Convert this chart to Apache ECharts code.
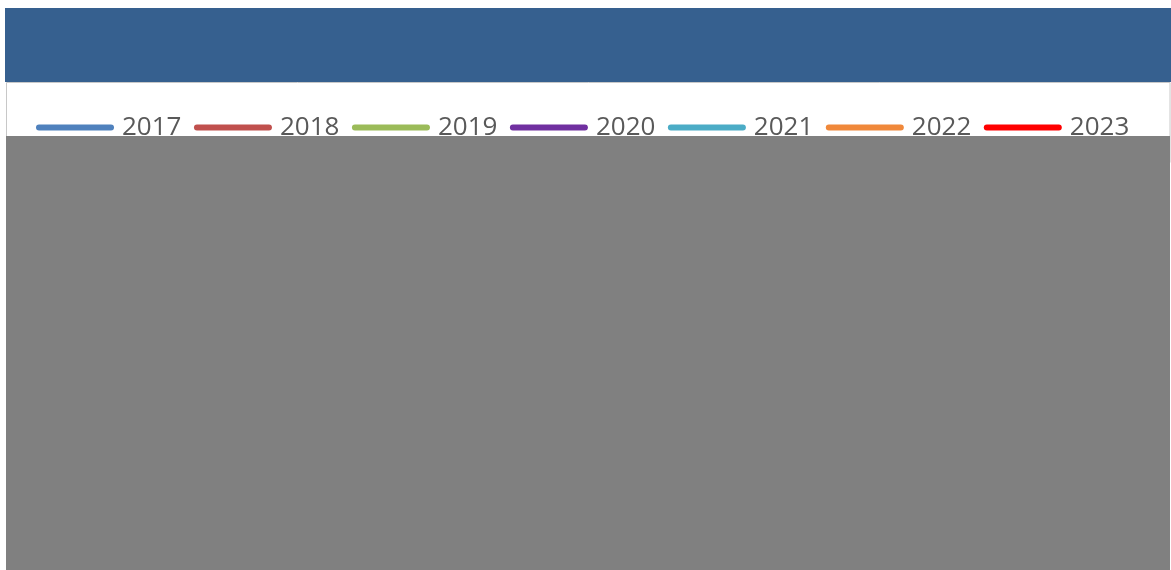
<!DOCTYPE html>
<html>
<head>
<meta charset="utf-8">
<script src="https://cdn.jsdelivr.net/npm/echarts@6/dist/echarts.min.js"></script>
<style>
html,body{margin:0;padding:0;background:#ffffff;}
#chart{width:1171px;height:570px;}
</style>
</head>
<body>
<div id="chart"></div>
<script>
// Series names (legend) – the plot body is covered by an opaque grey block in the reference,
// so no data values are visible.
const seriesNames = ['2017', '2018', '2019', '2020', '2021', '2022', '2023'];
const seriesColors = ['#4f81bd', '#c0504d', '#9bbb59', '#7030a0', '#4bacc6', '#f0883a', '#ff0000'];
const categories = [];
const values2017 = [];
const values2018 = [];
const values2019 = [];
const values2020 = [];
const values2021 = [];
const values2022 = [];
const values2023 = [];
const allValues = [values2017, values2018, values2019, values2020, values2021, values2022, values2023];

const chart = echarts.init(document.getElementById('chart'), null, {renderer: 'canvas'});
const capsule = 'path://M3,0 H75 A3,3 0 0 1 75,6 H3 A3,3 0 0 1 3,0 Z';

const option = {
  backgroundColor: '#ffffff',
  animation: false,
  graphic: [
    {type: 'rect', z: 1, shape: {x: 5, y: 8, width: 1166, height: 74}, style: {fill: '#36608f'}},
    {type: 'rect', z: 1, shape: {x: 6.5, y: 82.5, width: 1163.5, height: 80}, style: {fill: '#ffffff', stroke: '#c8c8c8', lineWidth: 1}},
    {type: 'rect', z: 100, shape: {x: 6, y: 136, width: 1164, height: 434}, style: {fill: '#808080'}}
  ],
  legend: {
    left: 36,
    top: 114.5,
    padding: 0,
    itemWidth: 78,
    itemHeight: 6,
    itemGap: 12.5,
    icon: capsule,
    textStyle: {fontFamily: 'Open Sans', fontSize: 26, color: '#595959', padding: [0, 0, 0, 3]},
    data: seriesNames
  },
  grid: {left: 60, right: 40, top: 160, bottom: 40},
  xAxis: {type: 'category', data: categories, show: false},
  yAxis: {type: 'value', show: false},
  series: seriesNames.map((n, i) => ({
    name: n,
    type: 'line',
    data: allValues[i],
    symbol: 'none',
    lineStyle: {color: seriesColors[i], width: 3},
    itemStyle: {color: seriesColors[i]}
  }))
};
chart.setOption(option);
</script>
</body>
</html>
